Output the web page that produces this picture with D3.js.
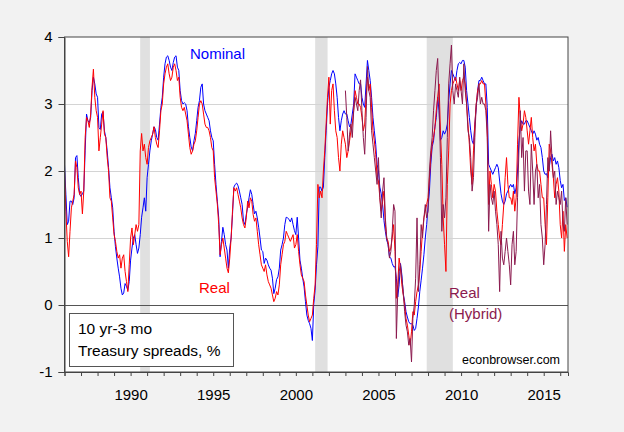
<!DOCTYPE html>
<meta charset="utf-8">
<style>
  body { margin: 0; background: #f2f2f2; }
  text { font-family: "Liberation Sans", Arial, sans-serif; }
</style>
<svg width="624" height="432"></svg>
<script src="https://d3js.org/d3.v7.min.js"></script>
<script>
// monthly observations, first one is Jan 1986
var startYear = 1986

// 10yr - 3mo nominal spread, %
var nominal = [
  2.10, 1.65, 1.20, 1.25, 1.55, 1.55, 1.50, 1.60, 2.20, 2.23, 1.90, 1.65, // 1986
  1.62, 1.66, 1.70, 2.30, 2.85, 2.75, 2.72, 2.80, 3.20, 3.40, 3.30, 3.15, // 1987
  3.10, 2.65, 2.62, 2.85, 2.88, 2.60, 2.50, 2.30, 2.05, 1.75, 1.60, 1.45, // 1988
  1.10, 0.87, 0.70, 0.55, 0.42, 0.25, 0.15, 0.18, 0.32, 0.28, 0.22, 0.35, // 1989
  0.67, 0.85, 1.00, 1.05, 0.90, 0.77, 0.85, 1.05, 1.31, 1.45, 1.60, 1.40, // 1990
  1.90, 2.10, 2.30, 2.45, 2.55, 2.66, 2.62, 2.50, 2.46, 2.70, 2.95, 3.10, // 1991
  3.40, 3.60, 3.70, 3.72, 3.65, 3.55, 3.50, 3.62, 3.70, 3.72, 3.55, 3.50, // 1992
  3.20, 3.05, 3.00, 3.02, 3.00, 2.90, 2.66, 2.50, 2.36, 2.30, 2.45, 2.56, // 1993
  2.75, 2.95, 3.05, 3.25, 3.30, 3.00, 2.90, 2.85, 2.80, 2.75, 2.60, 2.50, // 1994
  2.45, 2.10, 1.80, 1.55, 1.30, 0.72, 0.95, 1.16, 1.05, 0.90, 0.82, 0.55, // 1995
  0.85, 1.00, 1.35, 1.76, 1.80, 1.82, 1.78, 1.70, 1.60, 1.50, 1.25, 1.20, // 1996
  1.35, 1.46, 1.60, 1.72, 1.65, 1.50, 1.36, 1.40, 1.30, 1.16, 1.00, 0.82, // 1997
  0.80, 0.62, 0.70, 0.67, 0.60, 0.55, 0.52, 0.40, 0.17, 0.25, 0.38, 0.42, // 1998
  0.55, 0.82, 0.90, 1.00, 1.20, 1.31, 1.30, 1.28, 1.24, 1.30, 1.20, 1.11, // 1999
  1.05, 1.31, 1.00, 0.67, 0.55, 0.40, 0.27, 0.05, -0.15, -0.23, -0.28, -0.35, // 2000
  -0.53, 0.00, 0.22, 0.60, 0.87, 1.76, 1.76, 1.70, 1.76, 2.20, 2.60, 3.00, // 2001
  3.25, 3.35, 3.45, 3.50, 3.45, 3.30, 3.10, 2.80, 2.60, 2.75, 2.85, 2.90, // 2002
  2.85, 2.85, 2.75, 2.66, 2.70, 2.85, 3.00, 3.45, 3.40, 3.35, 3.30, 3.30, // 2003
  3.10, 3.00, 2.95, 3.30, 3.65, 3.50, 3.35, 3.10, 2.80, 2.60, 2.40, 2.10, // 2004
  2.00, 1.76, 1.66, 1.50, 1.26, 1.10, 0.97, 0.90, 0.72, 0.70, 0.62, 0.57, // 2005
  0.57, 0.40, 0.12, 0.30, 0.62, 0.45, 0.17, 0.05, -0.10, -0.18, -0.25, -0.28, // 2006
  -0.28, -0.30, -0.38, -0.35, -0.20, -0.03, 0.20, 0.37, 0.55, 0.75, 1.00, 1.20, // 2007
  1.46, 1.70, 2.10, 2.36, 2.45, 2.66, 2.80, 3.10, 2.90, 2.46, 2.50, 2.60, // 2008
  2.55, 2.60, 2.70, 3.05, 3.30, 3.50, 3.45, 3.40, 3.35, 3.50, 3.60, 3.62, // 2009
  3.60, 3.65, 3.65, 3.55, 3.20, 3.00, 2.80, 2.60, 2.45, 2.40, 2.70, 2.95, // 2010
  3.20, 3.35, 3.35, 3.40, 3.35, 3.30, 3.30, 2.95, 2.10, 2.05, 2.00, 1.95, // 2011
  2.00, 2.05, 2.10, 2.05, 1.85, 1.66, 1.55, 1.50, 1.55, 1.66, 1.70, 1.76, // 2012
  1.80, 1.76, 1.80, 1.66, 1.75, 2.00, 2.45, 2.66, 2.75, 2.70, 2.70, 2.75, // 2013
  2.75, 2.70, 2.65, 2.60, 2.55, 2.60, 2.55, 2.46, 2.50, 2.40, 2.35, 2.20, // 2014
  2.00, 1.95, 1.96, 1.90, 2.05, 2.20, 2.25, 2.15, 2.20, 2.10, 2.15, 2.05, // 2015
  1.86, 1.75, 1.80, 1.56, 1.60, 1.46                                      // 2016
]

// real spread, %
var real = [
  2.00, 1.40, 0.95, 0.72, 1.10, 1.45, 1.55, 1.65, 2.15, 2.05, 1.75, 1.65, // 1986
  1.70, 1.36, 1.70, 2.50, 2.80, 2.75, 2.65, 2.85, 3.25, 3.52, 3.10, 2.90, // 1987
  2.80, 2.30, 2.50, 2.70, 2.90, 2.55, 2.50, 2.20, 2.00, 1.60, 1.55, 1.30, // 1988
  1.05, 0.95, 0.80, 0.70, 0.75, 0.55, 0.70, 0.75, 0.50, 0.35, 0.20, 0.60, // 1989
  1.00, 1.15, 0.90, 1.05, 1.20, 1.10, 1.20, 2.30, 2.56, 2.30, 2.40, 2.20, // 1990
  2.10, 2.35, 2.45, 2.50, 2.55, 2.66, 2.50, 2.40, 2.35, 2.60, 2.90, 3.00, // 1991
  3.30, 3.45, 3.55, 3.60, 3.45, 3.35, 3.40, 3.55, 3.60, 3.50, 3.35, 3.40, // 1992
  3.10, 2.95, 2.90, 2.95, 2.85, 2.75, 2.55, 2.35, 2.25, 2.30, 2.40, 2.45, // 1993
  2.60, 2.80, 3.00, 3.05, 3.00, 2.85, 2.70, 2.65, 2.65, 2.60, 2.50, 2.35, // 1994
  2.30, 1.90, 1.70, 1.50, 1.20, 0.75, 0.90, 1.00, 0.85, 0.70, 0.55, 0.48, // 1995
  0.70, 1.00, 1.40, 1.75, 1.70, 1.75, 1.65, 1.55, 1.45, 1.30, 1.20, 1.15, // 1996
  1.30, 1.55, 1.45, 1.60, 1.55, 1.35, 1.25, 1.30, 1.10, 0.90, 0.75, 0.60, // 1997
  0.55, 0.50, 0.60, 0.45, 0.35, 0.30, 0.25, 0.15, 0.05, 0.10, 0.20, 0.15, // 1998
  0.30, 0.60, 0.75, 0.90, 0.95, 1.10, 1.05, 1.00, 0.95, 1.00, 1.05, 0.85, // 1999
  0.90, 1.05, 0.80, 0.60, 0.45, 0.40, 0.35, 0.15, 0.00, -0.15, -0.25, -0.20, // 2000
  -0.15, 0.10, 0.30, 0.90, 1.80, 1.60, 1.70, 1.60, 2.00, 2.30, 2.70, 3.10, // 2001
  3.40, 2.70, 3.20, 3.30, 2.90, 2.60, 2.50, 2.20, 2.00, 2.40, 2.60, 2.50, // 2002
  2.40, 2.20, 2.30, 2.45, 2.60, 2.70, 2.90, 3.20, 3.10, 3.00, 3.00, 2.95, // 2003
  2.80, 2.60, 2.70, 3.10, 3.40, 3.20, 3.30, 2.95, 2.60, 2.45, 2.25, 1.90, // 2004
  1.85, 1.60, 1.40, 1.55, 1.70, 1.20, 1.00, 0.95, 0.80, 0.85, 1.00, 1.20, // 2005
  0.80, 0.10, 0.30, 0.70, 0.55, 0.30, 0.15, 0.00, -0.20, -0.30, -0.45, -0.60, // 2006
  -0.40, -0.10, -0.15, 0.05, 0.20, 0.30, 0.50, 0.80, 1.10, 1.30, 1.40, 1.50, // 2007
  1.60, 1.90, 2.20, 2.40, 2.50, 2.65, 2.90, 3.10, 3.30, 2.60, 2.10, 1.30, // 2008
  0.90, 0.50, 1.80, 2.30, 3.00, 3.20, 3.30, 3.35, 3.40, 3.30, 3.20, 3.35, // 2009
  3.20, 3.35, 3.40, 3.30, 3.00, 2.70, 2.40, 2.00, 1.80, 2.30, 2.70, 3.00, // 2010
  3.20, 3.30, 3.30, 3.35, 3.30, 3.30, 3.00, 2.60, 1.50, 2.00, 1.80, 1.60, // 2011
  1.80, 1.70, 1.40, 1.20, 1.00, 0.90, 1.20, 1.50, 1.90, 2.20, 1.80, 1.60, // 2012
  1.60, 1.50, 1.70, 1.40, 1.60, 2.40, 3.10, 2.80, 2.60, 2.70, 2.90, 2.80, // 2013
  2.60, 2.40, 2.60, 2.80, 2.50, 2.30, 2.40, 2.10, 2.00, 2.00, 1.80, 1.60, // 2014
  1.60, 1.20, 0.90, 1.60, 2.40, 2.30, 2.10, 1.90, 1.60, 1.80, 1.90, 1.70, // 2015
  1.20, 1.00, 1.40, 0.80, 1.20, 1.00                                      // 2016
]

// real (hybrid) spread, %, starts Jan 2003
var hybridStart = 2003
var hybrid = [
  3.20, 2.80, 2.30, 2.55, 2.70, 2.50, 2.90, 3.10, 3.00, 2.90, 3.20, 3.36, // 2003
  2.90, 2.50, 2.25, 2.80, 3.56, 3.20, 3.10, 2.60, 2.40, 2.20, 2.00, 1.80, // 2004
  2.20, 1.60, 1.30, 1.70, 1.90, 1.30, 1.00, 0.90, 0.70, 0.80, 1.10, 1.50, // 2005
  1.40, -0.50, 0.20, 0.50, 0.60, 0.40, 0.20, -0.10, -0.30, -0.40, -0.60, -0.50, // 2006
  -0.85, -0.20, 0.00, 0.40, 1.30, 0.20, 0.60, 1.20, 1.00, 1.30, 1.50, 1.30, // 2007
  1.40, 2.00, 2.30, 2.50, 2.90, 3.20, 3.50, 3.68, 3.00, 2.20, 1.10, 1.50, // 2008
  1.30, 1.60, 2.50, 3.30, 3.60, 3.88, 3.20, 3.00, 3.30, 3.20, 3.10, 3.40, // 2009
  3.20, 3.00, 3.60, 3.20, 3.00, 2.60, 2.50, 2.20, 1.70, 1.90, 2.50, 3.00, // 2010
  3.10, 3.30, 3.00, 3.10, 3.00, 3.00, 2.90, 2.50, 1.10, 1.80, 1.60, 1.50, // 2011
  1.70, 1.40, 1.20, 0.90, 0.20, 1.10, 0.70, 0.60, 0.80, 1.00, 0.80, 0.60, // 2012
  0.30, 0.90, 1.10, 0.60, 0.80, 1.60, 2.30, 2.90, 2.20, 2.50, 1.70, 2.30, // 2013
  2.30, 1.70, 1.50, 2.40, 2.00, 1.50, 2.00, 2.10, 1.60, 1.80, 1.20, 1.00, // 2014
  0.60, 0.90, 1.50, 2.20, 2.00, 2.60, 2.20, 1.90, 2.00, 1.50, 1.70, 1.60, // 2015
  1.50, 1.70, 1.20, 1.10, 1.60, 1.20                                      // 2016
]

// NBER recessions (decimal years)
var recessions = [[1990.58, 1991.17], [2001.17, 2001.92], [2007.92, 2009.5]]

var yTicks = [-1, 0, 1, 2, 3, 4]
var yearTicks = d3.range(1986, 2017)
var labelYears = [1990, 1995, 2000, 2005, 2010, 2015]

var svg = d3.select('svg')

var plotLeft = 64.5, plotRight = 568, plotTop = 37, plotBottom = 372

var x = d3.scaleLinear().domain([1986, 2016.47]).range([plotLeft, plotRight])
var y = d3.scaleLinear().domain([-1, 4]).range([plotBottom, plotTop])

// plot background
svg.append('rect')
  .attr('x', plotLeft).attr('y', plotTop)
  .attr('width', plotRight - plotLeft).attr('height', plotBottom - plotTop)
  .attr('fill', '#fff')

// recession shading
svg.append('g').selectAll('rect')
  .data(recessions)
  .enter().append('rect')
  .attr('x', function (d) { return x(d[0]) })
  .attr('y', plotTop)
  .attr('width', function (d) { return x(d[1]) - x(d[0]) })
  .attr('height', plotBottom - plotTop)
  .attr('fill', '#e0e0e0')

// grid lines
svg.append('g').selectAll('line')
  .data(yTicks.filter(function (v) { return v > 0 && v < 4 }))
  .enter().append('line')
  .attr('x1', plotLeft).attr('x2', plotRight)
  .attr('y1', function (v) { return Math.round(y(v)) + 0.5 })
  .attr('y2', function (v) { return Math.round(y(v)) + 0.5 })
  .attr('stroke', '#d4d4d4')

// zero line
svg.append('line')
  .attr('x1', plotLeft).attr('x2', plotRight)
  .attr('y1', Math.round(y(0)) + 0.5).attr('y2', Math.round(y(0)) + 0.5)
  .attr('stroke', '#555')

function monthly(values, y0) {
  return values.map(function (v, i) { return { t: y0 + i / 12, v: v } })
}

var line = d3.line()
  .x(function (d) { return x(d.t) })
  .y(function (d) { return y(d.v) })

var series = [
  { data: monthly(nominal, startYear), color: '#0000ff' },
  { data: monthly(real, startYear), color: '#ff0000' },
  { data: monthly(hybrid, hybridStart), color: '#8b1a4e' }
]

svg.append('g').selectAll('path')
  .data(series)
  .enter().append('path')
  .attr('d', function (s) { return line(s.data) })
  .attr('fill', 'none')
  .attr('stroke', function (s) { return s.color })
  .attr('stroke-width', 1)

// frame
svg.append('rect')
  .attr('x', plotLeft).attr('y', plotTop)
  .attr('width', plotRight - plotLeft).attr('height', plotBottom - plotTop)
  .attr('fill', 'none')
  .attr('stroke', '#444')

// y axis
var yAxis = svg.append('g')
  .attr('transform', 'translate(' + plotLeft + ',0)')
  .call(d3.axisLeft(y).tickValues(yTicks).tickSize(6).tickPadding(6)
    .tickFormat(function (d) { return String(d) }))
yAxis.select('.domain').attr('stroke', '#444')
yAxis.selectAll('.tick line').attr('stroke', '#444')
yAxis.selectAll('text')
  .attr('font-size', 15).attr('fill', '#000')
  .style('font-family', '"Liberation Sans", Arial, sans-serif')

// x axis, minor ticks every year
var xAxis = svg.append('g')
  .attr('transform', 'translate(0,' + plotBottom + ')')
  .call(d3.axisBottom(x).tickValues(yearTicks).tickSize(4).tickPadding(13)
    .tickFormat(function (d) { return labelYears.indexOf(d) > -1 ? d : '' }))
xAxis.select('.domain').attr('stroke', '#444')
xAxis.selectAll('.tick line').attr('stroke', '#444')
xAxis.selectAll('text')
  .attr('font-size', 15).attr('fill', '#000')
  .style('font-family', '"Liberation Sans", Arial, sans-serif')

// series labels
var labels = [
  { text: 'Nominal', x: 190, y: 58.5, color: '#0000ff' },
  { text: 'Real', x: 199, y: 292.5, color: '#ff0000' },
  { text: 'Real', x: 449, y: 298, color: '#8b1a4e' },
  { text: '(Hybrid)', x: 449, y: 318.5, color: '#8b1a4e' }
]
svg.append('g').selectAll('text')
  .data(labels)
  .enter().append('text')
  .attr('x', function (d) { return d.x })
  .attr('y', function (d) { return d.y })
  .attr('fill', function (d) { return d.color })
  .attr('font-size', 15)
  .text(function (d) { return d.text })

// legend box
svg.append('rect')
  .attr('x', 69.5).attr('y', 313.5)
  .attr('width', 164).attr('height', 53)
  .attr('fill', '#fff').attr('stroke', '#555')
svg.append('text').attr('x', 78).attr('y', 334.3).attr('font-size', 15.5).text('10 yr-3 mo')
svg.append('text').attr('x', 78).attr('y', 356).attr('font-size', 15.5).text('Treasury spreads, %')

svg.append('text')
  .attr('x', 560).attr('y', 364)
  .attr('text-anchor', 'end')
  .attr('font-size', 12.5)
  .text('econbrowser.com')
</script>
